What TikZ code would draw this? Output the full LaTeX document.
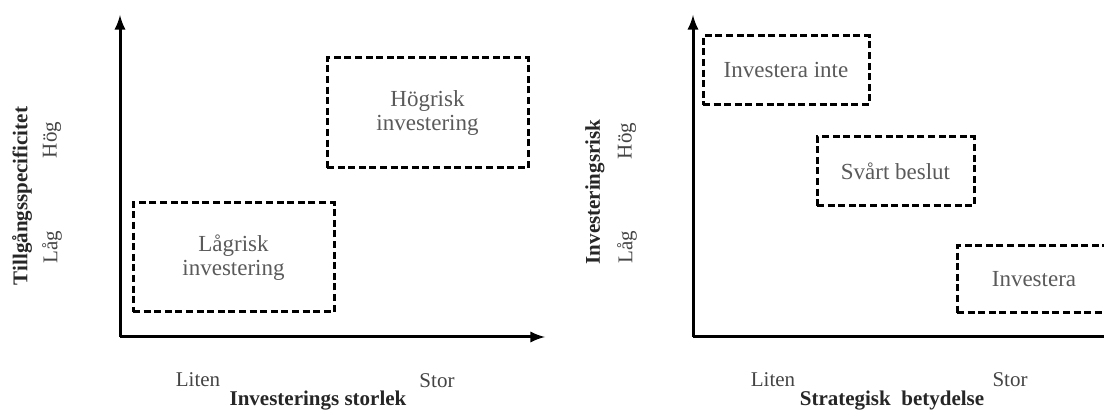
\documentclass[tikz,border=0pt]{standalone}
\usepackage{fontspec}
\setmainfont{Liberation Serif}
\usepackage{xcolor}
\usetikzlibrary{arrows,positioning}
\definecolor{boxgray}{HTML}{5A5A5A}
\definecolor{tickgray}{HTML}{444444}

\begin{document}
\begin{tikzpicture}[x=0.5pt,y=-0.5pt,>=latex]
        \tikzstyle{axis}=[->,line width=1.5pt]
        \tikzstyle{zone}=[draw=black,line width=1.5pt,dash pattern=on 3.5pt off 1.8pt,text=boxgray,font=\fontsize{11.5}{12}\selectfont,align=center,inner sep=0pt]
        \tikzstyle{tick_label}=[text=tickgray,font=\fontsize{10.5}{12}\selectfont]
        \tikzstyle{axis_title}=[text=black!85,font=\fontsize{10.5}{12}\selectfont\bfseries]
        \useasboundingbox (0,0) rectangle (1104,411);

        % left chart
        \coordinate (o1) at (120,337);
        \coordinate (y1) at (120,15);
        \coordinate (x1) at (545,337);
        \draw[axis] (o1) -- (y1);
        \draw[axis] (o1) -- (x1);
        \node[zone,minimum width=100.5pt,minimum height=55pt] (hogrisk) at (427.5,113) {Högrisk\\investering};
        \node[zone,minimum width=100.5pt,minimum height=54.5pt] (lagrisk) at (233.5,257.5) {Lågrisk\\investering};
        \node[tick_label] (liten1) at (198,380) {Liten};
        \node[tick_label] (stor1) at (437,381) {Stor};
        \node[axis_title] (xtitle1) at (318,401) {Investerings storlek};
        \node[axis_title,rotate=90] (ytitle1) at (22,196) {Tillgångsspecificitet};
        \node[tick_label,rotate=90] (hog1) at (52,140) {Hög};
        \node[tick_label,rotate=90] (lag1) at (52,247) {Låg};

        % right chart
        \coordinate (o2) at (693,337);
        \coordinate (y2) at (693,15);
        \coordinate (x2) at (1112,337);
        \draw[axis] (o2) -- (y2);
        \draw[line width=1.5pt] (o2) -- (x2);
        \node[zone,minimum width=83pt,minimum height=34.5pt] (inte) at (786,70.5) {Investera inte};
        \node[zone,minimum width=78.5pt,minimum height=34.5pt] (svart) at (895.5,171.5) {Svårt beslut};
        \node[zone,minimum width=77pt,minimum height=33.5pt] (investera) at (1034,279.5) {Investera};
        \node[tick_label] (liten2) at (773,380) {Liten};
        \node[tick_label] (stor2) at (1010,380) {Stor};
        \node[axis_title] (xtitle2) at (892,401) {Strategisk\ \ betydelse};
        \node[axis_title,rotate=90] (ytitle2) at (595,192) {Investeringsrisk};
        \node[tick_label,rotate=90] (hog2) at (627,141) {Hög};
        \node[tick_label,rotate=90] (lag2) at (627,247) {Låg};
\end{tikzpicture}
\end{document}
